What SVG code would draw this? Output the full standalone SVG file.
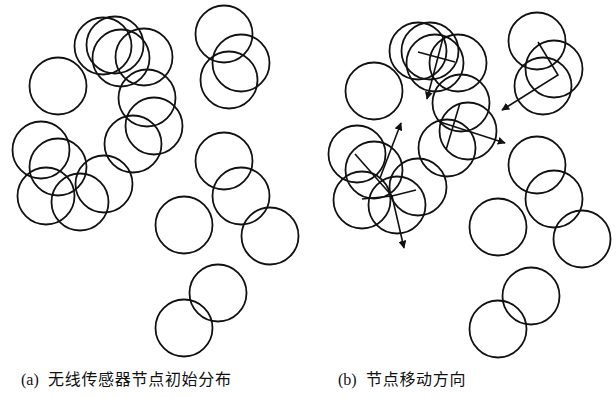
<svg xmlns="http://www.w3.org/2000/svg" width="616" height="398" viewBox="0 0 616 398">
<style>
.n circle{fill:none;stroke:#111;stroke-width:1.8}
.c line,.c polyline{stroke:#111;stroke-width:1.6;fill:none}
.lab{font-size:16px;fill:#111}
.lat{font-family:"Liberation Serif",serif}
.cjk{font-family:"Noto Sans CJK SC","Noto Sans",sans-serif;letter-spacing:0.7px}
</style>
<defs>
<marker id="ah" viewBox="0 0 10 10" refX="9" refY="5" markerWidth="5" markerHeight="5" orient="auto" markerUnits="strokeWidth">
<path d="M0,0 L10,5 L0,10 z" fill="#111"/>
</marker>
</defs>
<rect width="616" height="398" fill="#fff"/>
<g id="panel-a" class="n">
<g id="a1"><circle cx="58" cy="86" r="28.5"/></g>
<g id="a2"><circle cx="103" cy="46" r="28.5"/></g>
<g id="a3"><circle cx="115" cy="45" r="28.5"/></g>
<g id="a4"><circle cx="121" cy="58" r="28.5"/></g>
<g id="a5"><circle cx="144" cy="57" r="28.5"/></g>
<g id="a6"><circle cx="147" cy="98" r="28.5"/></g>
<g id="a7"><circle cx="154" cy="126" r="28.5"/></g>
<g id="a8"><circle cx="133" cy="144" r="28.5"/></g>
<g id="a9"><circle cx="41" cy="150" r="28.5"/></g>
<g id="a10"><circle cx="58" cy="167" r="28.5"/></g>
<g id="a11"><circle cx="46" cy="196" r="28.5"/></g>
<g id="a12"><circle cx="80" cy="202" r="28.5"/></g>
<g id="a13"><circle cx="104" cy="184" r="28.5"/></g>
<g id="a14"><circle cx="224" cy="34" r="28.5"/></g>
<g id="a15"><circle cx="241" cy="63" r="28.5"/></g>
<g id="a16"><circle cx="229" cy="80" r="28.5"/></g>
<g id="a17"><circle cx="224" cy="161" r="28.5"/></g>
<g id="a18"><circle cx="241" cy="196" r="28.5"/></g>
<g id="a19"><circle cx="270" cy="236" r="28.5"/></g>
<g id="a20"><circle cx="184" cy="225" r="28.5"/></g>
<g id="a21"><circle cx="218" cy="293" r="28.5"/></g>
<g id="a22"><circle cx="184" cy="328" r="28.5"/></g>
</g>
<g id="panel-b" class="n">
<g id="b1"><circle cx="374" cy="91" r="28.5"/></g>
<g id="b2"><circle cx="418" cy="51" r="28.5"/></g>
<g id="b3"><circle cx="430" cy="51" r="28.5"/></g>
<g id="b4"><circle cx="435" cy="63" r="28.5"/></g>
<g id="b5"><circle cx="458" cy="63" r="28.5"/></g>
<g id="b6"><circle cx="461" cy="103" r="28.5"/></g>
<g id="b7"><circle cx="468" cy="131" r="28.5"/></g>
<g id="b8"><circle cx="447" cy="148" r="28.5"/></g>
<g id="b9"><circle cx="357" cy="154" r="28.5"/></g>
<g id="b10"><circle cx="374" cy="170" r="28.5"/></g>
<g id="b11"><circle cx="362" cy="200" r="28.5"/></g>
<g id="b12"><circle cx="397" cy="205" r="28.5"/></g>
<g id="b13"><circle cx="418" cy="187" r="28.5"/></g>
<g id="b14"><circle cx="537" cy="41" r="28.5"/></g>
<g id="b15"><circle cx="554" cy="69" r="28.5"/></g>
<g id="b16"><circle cx="543" cy="86" r="28.5"/></g>
<g id="b17"><circle cx="537" cy="165" r="28.5"/></g>
<g id="b18"><circle cx="554" cy="199" r="28.5"/></g>
<g id="b19"><circle cx="582" cy="239" r="28.5"/></g>
<g id="b20"><circle cx="498" cy="227" r="28.5"/></g>
<g id="b21"><circle cx="531" cy="296" r="28.5"/></g>
<g id="b22"><circle cx="498" cy="329" r="28.5"/></g>
</g>
<g id="connectors" class="c">
<line x1="418" y1="52" x2="455" y2="62"/>
<line x1="443" y1="38" x2="427" y2="99" marker-end="url(#ah)"/>
<polyline points="538,42 558,75 502,110" marker-end="url(#ah)"/>
<line x1="460" y1="103" x2="446" y2="150"/>
<line x1="440" y1="122" x2="505" y2="143" marker-end="url(#ah)"/>
<line x1="355" y1="154" x2="392" y2="196"/>
<line x1="392" y1="196" x2="416" y2="190"/>
<line x1="362" y1="199" x2="392" y2="196"/>
<line x1="392" y1="196" x2="404" y2="248" marker-end="url(#ah)"/>
<line x1="380" y1="178" x2="401" y2="123" marker-end="url(#ah)"/>
</g>
<text class="lab" x="21" y="385"><tspan class="lat">(a)</tspan><tspan class="cjk" x="48">无线传感器节点初始分布</tspan></text>
<text class="lab" x="338" y="385"><tspan class="lat">(b)</tspan><tspan class="cjk" x="366">节点移动方向</tspan></text>
</svg>
